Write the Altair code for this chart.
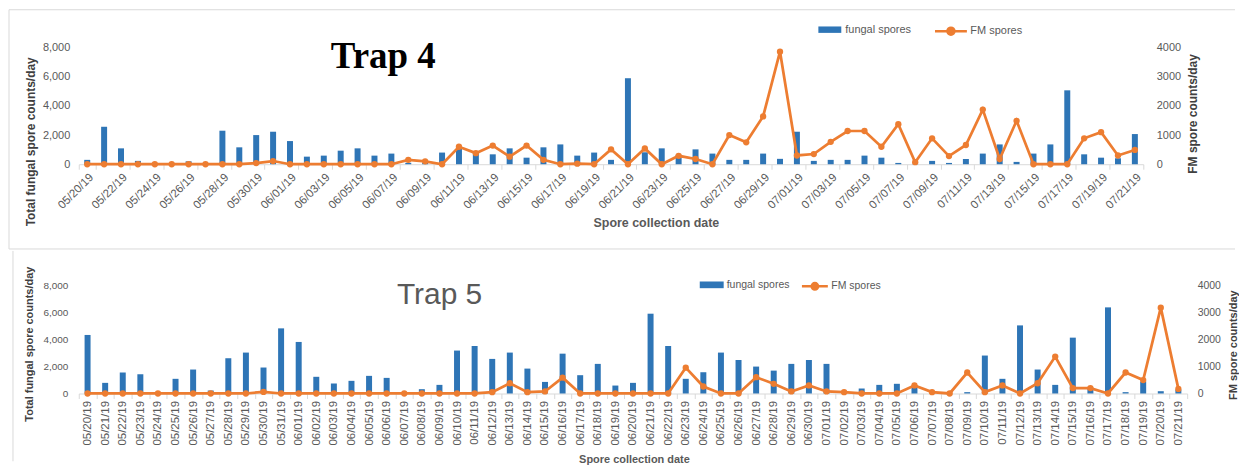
import altair as alt
import pandas as pd

# ---------------- data ----------------
dates = [d.strftime("%m/%d/%y") for d in pd.date_range("2019-05-20", "2019-07-21")]

trap4_fungal = [300, 2570, 1090, 230, 60, 80, 200, 50, 2300, 1160,
                2000, 2230, 1590, 520, 590, 930, 1090, 590, 730, 100,
                100, 800, 1090, 750, 680, 1090, 450, 1160, 1360, 590,
                800, 300, 5900, 820, 1090, 640, 1020, 730, 300, 300,
                730, 370, 2230, 230, 300, 300, 590, 450, 90, 30,
                230, 90, 360, 730, 1360, 160, 730, 1360, 5070, 680,
                450, 410, 2070]
trap4_fm = [0, 0, 0, 0, 0, 0, 0, 0, 0, 0,
            40, 110, 0, 0, 0, 0, 0, 0, 0, 150,
            100, 0, 600, 380, 640, 260, 640, 150, 0, 20,
            0, 510, 0, 540, 0, 290, 180, 0, 1000, 750,
            1640, 3860, 300, 350, 770, 1140, 1140, 600, 1375, 70,
            890, 280, 660, 1875, 180, 1490, 0, 0, 0, 890,
            1100, 300, 490]

trap5_fungal = [4350, 790, 1560, 1430, 0, 1090, 1780, 220, 2620, 3040,
                1930, 4840, 3830, 1240, 740, 940, 1310, 1160, 100, 320,
                640, 3190, 3530, 2570, 3040, 1850, 860, 2960, 1360, 2200,
                590, 790, 5930, 3530, 1090, 1580, 3040, 2490, 2000, 1700,
                2200, 2490, 2200, 0, 370, 640, 720, 500, 0, 0,
                100, 2820, 1090, 5060, 1780, 640, 4150, 450, 6400, 100,
                890, 170, 300]
trap5_fm = [0, 0, 0, 0, 0, 0, 0, 0, 0, 0,
            60, 0, 0, 0, 0, 0, 0, 0, 0, 0,
            0, 0, 0, 50, 380, 50, 75, 590, 0, 0,
            0, 0, 0, 0, 960, 260, 0, 0, 605, 360,
            75, 300, 75, 50, 0, 0, 0, 300, 50, 0,
            780, 50, 300, 0, 380, 1370, 200, 200, 0, 780,
            500, 3190, 170]

series_names = ["fungal spores", "FM spores"]
left_ticks = [0, 2000, 4000, 6000, 8000]
right_ticks = [0, 1000, 2000, 3000, 4000]

# ---------------- style ----------------
BLUE = "#2E75B6"
ORANGE = "#ED7D31"
GRAY = "#595959"
DARK = "#404040"
BORDER = "#D9D9D9"
FONT = "Liberation Sans"


def panel(fungal, fm, c):
    df = pd.DataFrame({"date": dates, "fungal": fungal, "fm": fm,
                       "s1": series_names[0], "s2": series_names[1]})
    base = alt.Chart(df)

    xaxis = alt.Axis(
        values=c["xvalues"], labelAngle=c["labelAngle"], labelOverlap=False,
        labelFont=FONT, labelFontSize=11.5, labelColor=GRAY, labelPadding=2,
        domainColor=BORDER, tickColor=BORDER, tickSize=5, tickBand="extent",
        title="Spore collection date", titleFont=FONT, titleFontSize=c["xtitleSize"],
        titleFontWeight="bold", titleColor=GRAY, titleX=c["xtitleX"],
        titlePadding=c["xtitlePad"],
    )
    x = alt.X("date:O", sort=dates,
              scale=alt.Scale(paddingInner=0, paddingOuter=0), axis=xaxis)

    bars = base.mark_bar(size=6).encode(
        x=x,
        y=alt.Y("fungal:Q", scale=alt.Scale(domain=[0, 8000], nice=False),
                axis=alt.Axis(values=left_ticks, format=",d", ticks=False, tickSize=0,
                              domain=False, grid=False, labelFont=FONT,
                              labelFontSize=c["lsize"], labelColor=GRAY,
                              labelPadding=c["lpad"],
                              title="Total fungal  spore counts/day", titleFont=FONT,
                              titleFontSize=c["ltitleSize"], titleFontWeight="bold",
                              titleColor=DARK, titleY=c["ltitleY"],
                              titlePadding=c["ltitlePad"])),
        fill=alt.Fill("s1:N", scale=alt.Scale(domain=[series_names[0]], range=[BLUE]),
                      legend=alt.Legend(title=None, orient="none", direction="horizontal",
                                        legendX=c["leg1X"], legendY=c["leg1Y"],
                                        symbolType="M-1,-0.28H1V0.28H-1Z",
                                        symbolSize=c["leg1Size"], symbolStrokeWidth=0,
                                        labelFont=FONT, labelFontSize=c["legFont"],
                                        labelColor=GRAY, labelOffset=c["leg1Off"],
                                        padding=0)),
    )

    r = c["leg2R"]
    circle_path = (f"M-1,0H1M{r},0A{r},{r} 0 1,1 -{r},0A{r},{r} 0 1,1 {r},0Z")
    line = base.mark_line(strokeWidth=2.75,
                          point=alt.OverlayMarkDef(filled=True, size=40, fill=ORANGE,
                                                   stroke=ORANGE, strokeWidth=0)).encode(
        x=x,
        y=alt.Y("fm:Q", scale=alt.Scale(domain=[0, 4000], nice=False),
                axis=alt.Axis(orient="right", values=right_ticks, format="d", ticks=False,
                              tickSize=0, domain=False, grid=False, labelFont=FONT,
                              labelFontSize=c["rsize"], labelColor=GRAY,
                              labelPadding=c["rpad"],
                              title="FM spore counts/day", titleFont=FONT,
                              titleFontSize=c["rtitleSize"], titleFontWeight="bold",
                              titleColor=DARK, titleAngle=270, titleY=c["rtitleY"],
                              titlePadding=c["rtitlePad"])),
        stroke=alt.Stroke("s2:N", scale=alt.Scale(domain=[series_names[1]], range=[ORANGE]),
                          legend=alt.Legend(title=None, orient="none", direction="horizontal",
                                            legendX=c["leg2X"], legendY=c["leg2Y"],
                                            symbolType=circle_path,
                                            symbolSize=c["leg2Size"], symbolStrokeWidth=2.5,
                                            symbolFillColor=ORANGE, symbolStrokeColor=ORANGE,
                                            labelFont=FONT, labelFontSize=c["legFont"],
                                            labelColor=GRAY, labelOffset=c["leg2Off"],
                                            padding=0)),
    )

    one = alt.Data(values=[{"t": c["title"]}])
    title = alt.Chart(one).mark_text(
        font=c["titleFont"], fontSize=c["titleSize"], fontWeight=c["titleWeight"],
        color=c["titleColor"], align="center", baseline="alphabetic",
    ).encode(x=alt.value(c["titleX"]), y=alt.value(c["titleY"]), text="t:N")

    borders = []
    for b in c["borders"]:
        enc = {k: alt.value(v) for k, v in b.items()}
        borders.append(alt.Chart(alt.Data(values=[{}])).mark_rule(
            color=BORDER, strokeWidth=1).encode(**enc))

    layered = alt.layer(*borders, bars, line, title).resolve_scale(y="independent")
    return layered.properties(width=c["width"], height=c["height"])


cfg4 = dict(
    width=1068, height=117,
    xvalues=dates[::2], labelAngle=315, xtitleSize=12.5, xtitleX=579, xtitlePad=6,
    lsize=11, lpad=9, ltitleSize=12, ltitleY=94, ltitlePad=5,
    rsize=11, rpad=13, rtitleSize=12, rtitleY=66, rtitlePad=19,
    leg1X=742, leg1Y=-29.5, leg1Size=529, leg1Off=4,
    leg2X=857.5, leg2Y=-34, leg2Size=1024, leg2Off=2, leg2R=0.22, legFont=11,
    title="Trap 4", titleFont="Liberation Serif", titleSize=37, titleWeight="bold",
    titleColor="#000000", titleX=305.5, titleY=20,
    borders=[dict(x=-70, x2=1160, y=-38), dict(x=-70, y=-38, y2=202),
             dict(x=-70, x2=1160, y=202)],
)

cfg5 = dict(
    width=1112, height=108,
    xvalues=dates, labelAngle=270, xtitleSize=11, xtitleX=557, xtitlePad=8,
    lsize=10, lpad=11, ltitleSize=11, ltitleY=58, ltitlePad=8,
    rsize=10.5, rpad=10, rtitleSize=11, rtitleY=59, rtitlePad=18,
    leg1X=623, leg1Y=-13, leg1Size=576, leg1Off=3,
    leg2X=724, leg2Y=-14, leg2Size=676, leg2Off=2, leg2R=0.25, legFont=10.5,
    title="Trap 5", titleFont=FONT, titleSize=30, titleWeight="normal",
    titleColor=GRAY, titleX=362, titleY=18,
    borders=[dict(x=-66, y=-35, y2=176)],
)

chart = alt.concat(
    panel(trap4_fungal, trap4_fm, cfg4),
    panel(trap5_fungal, trap5_fm, cfg5),
    columns=1, spacing=0, align="none",
).resolve_scale(fill="independent", stroke="independent", x="independent"
).properties(padding={"left": 0, "top": 0, "right": 0, "bottom": 0}
).configure_view(stroke=None)

chart.save("out.html", embed_options={"renderer": "svg", "actions": False})
